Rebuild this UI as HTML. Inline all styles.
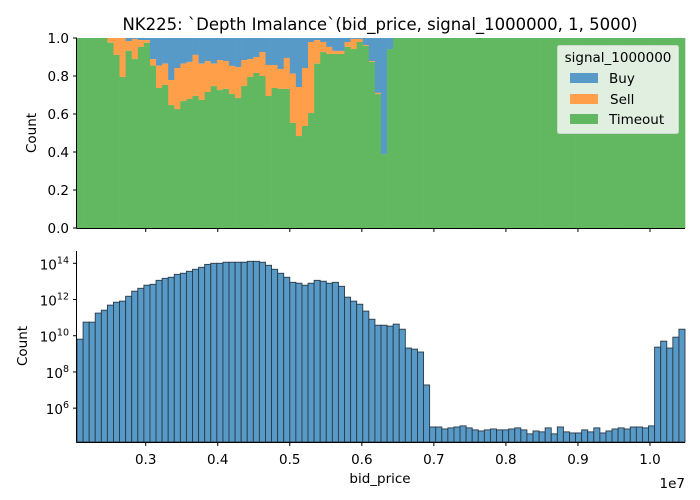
<!DOCTYPE html>
<html><head><meta charset="utf-8"><style>
body{margin:0;background:#fff;}
svg{display:block;font-family:"DejaVu Sans","Liberation Sans",sans-serif;}
</style></head><body>
<div style="position:relative;width:700px;height:500px">
<svg id="c" width="700" height="500" viewBox="0 0 700 500" style="position:absolute;left:0;top:0"></svg>
<svg width="700" height="500" style="position:absolute;left:0;top:0;pointer-events:none;font-family:'DejaVu Sans','Liberation Sans',sans-serif">
<text x="380" y="30" text-anchor="middle" font-size="16.5">NK225: `Depth Imalance`(bid_price, signal_1000000, 1, 5000)</text>
<text transform="translate(36,133) rotate(-90)" text-anchor="middle" font-size="13.5">Count</text>
<text transform="translate(27,346) rotate(-90)" text-anchor="middle" font-size="13.5">Count</text>
<text x="380" y="483" text-anchor="middle" font-size="13.5">bid_price</text>
<text x="685" y="488" text-anchor="end" font-size="13.5">1e7</text>
<g>
<rect x="557.5" y="45.5" width="121" height="88" rx="2" fill="#e0efdf" stroke="#cfd9cf" stroke-width="1"/>
<text x="618" y="62" text-anchor="middle" font-size="13.5">signal_1000000</text>
<rect x="570" y="73" width="28" height="10" fill="#5799c7"/>
<text x="609" y="83" font-size="13.5">Buy</text>
<rect x="570" y="94" width="28" height="10" fill="#ff9f4a"/>
<text x="610" y="104" font-size="13.5">Sell</text>
<rect x="570" y="114" width="28" height="10" fill="#61b861"/>
<text x="609" y="124" font-size="13.5">Timeout</text>
</g>
</svg>
</div>
<script>
const timeoutShare=[1,1,1,1,1,.975,.911,.795,.933,.889,.953,.974,.855,.737,.753,.647,.626,.668,.679,.695,.674,.716,.747,.726,.732,.705,.684,.747,.795,.816,.8,.695,.737,.732,.732,.553,.484,.537,.605,.865,.926,.916,.916,.916,.953,.942,.979,.958,.874,.705,.389,.942,1,1,1,1,1,1,1,1,1,1,1,1,1,1,1,1,1,1,1,1,1,1,1,1,1,1,1,1,1,1,1,1,1,1,1,1,1,1,1,1,1,1,1,1,1,1,1,1];
const sellShare=[0,0,0,0,0,.025,.089,.205,.051,.106,.036,.015,.034,.118,.112,.132,.216,.197,.195,.216,.191,.163,.118,.158,.147,.148,.163,.137,.094,.084,.126,.163,.121,.105,.163,.259,.258,.305,.374,.124,.053,.037,.016,.016,.026,.053,.016,.005,.005,.006,0,0,0,0,0,0,0,0,0,0,0,0,0,0,0,0,0,0,0,0,0,0,0,0,0,0,0,0,0,0,0,0,0,0,0,0,0,0,0,0,0,0,0,0,0,0,0,0,0,0];
const log10Counts=[9.81,10.75,10.75,11.25,11.41,11.69,11.85,11.91,12.18,12.46,12.62,12.79,12.84,13.06,13.17,13.23,13.39,13.45,13.56,13.67,13.78,13.94,14.0,14.0,14.06,14.06,14.06,14.06,14.11,14.11,14.06,13.89,13.67,13.45,13.23,12.95,12.90,12.79,12.90,13.06,13.01,12.90,12.95,12.73,12.13,11.91,11.74,11.36,10.91,10.58,10.58,10.53,10.64,10.36,9.32,9.26,9.10,7.28,4.96,4.96,4.85,4.91,4.96,5.02,4.91,4.80,4.74,4.80,4.85,4.80,4.80,4.85,4.91,4.80,4.58,4.74,4.69,4.91,4.58,4.96,4.69,4.63,4.63,4.80,4.69,4.91,4.63,4.74,4.85,4.91,4.85,4.96,4.96,4.91,5.02,9.37,9.70,9.32,9.92,10.36];
const xTicks=[0.3,0.4,0.5,0.6,0.7,0.8,0.9,1.0];
const xTickLabels=["0.3","0.4","0.5","0.6","0.7","0.8","0.9","1.0"];
const yTicksTop=[0,0.2,0.4,0.6,0.8,1.0];
const yTicksTopLabels=["0.0","0.2","0.4","0.6","0.8","1.0"];
const yTicksLog=[6,8,10,12,14];
const xMin=0.2046,xMax=1.0486;
const L=77,R=685;
const C={buy:'#5799c7',sell:'#ff9f4a',timeout:'#61b861'};
const svg=document.getElementById('c');
const NS='http://www.w3.org/2000/svg';
function mk(tag,attrs,parent){const e=document.createElementNS(NS,tag);for(const k in attrs)e.setAttribute(k,attrs[k]);(parent||svg).appendChild(e);return e;}
const xs=v=>L+(v-xMin)/(xMax-xMin)*(R-L);
const N=log10Counts.length;
const binW=(xMax-xMin)/N;
const T0=38,T1=228;
const yTop=v=>T1-v*(T1-T0);
const gTop=mk('g',{});


for(let i=0;i<N;i++){
  const x0=xs(xMin+i*binW),x1=xs(xMin+(i+1)*binW);
  const t=timeoutShare[i],s=sellShare[i];
  const b=mk('rect',{x:x0,y:yTop(1),width:x1-x0+0.3,height:yTop(t+s)-yTop(1),fill:C.buy},gTop);
  
  
  const o=mk('rect',{x:x0,y:yTop(t+s),width:x1-x0+0.3,height:yTop(t)-yTop(t+s),fill:C.sell},gTop);
  
  
  const g=mk('rect',{x:x0,y:yTop(t),width:x1-x0+0.3,height:yTop(0)-yTop(t),fill:C.timeout},gTop);
  
  
}
mk('line',{x1:L-0.5,y1:T0,x2:L-0.5,y2:T1+0.5,stroke:'#000','stroke-width':1});
mk('line',{x1:L-0.5,y1:T1+0.5,x2:R,y2:T1+0.5,stroke:'#000','stroke-width':1});
yTicksTop.forEach((v,i)=>{
  const y=yTop(v);
  mk('line',{x1:L-4,y1:y,x2:L,y2:y,stroke:'#000'});
  const t=mk('text',{x:L-8,y:y+5,'text-anchor':'end','font-size':13.5,fill:'#000'});
  t.textContent=yTicksTopLabels[i];
  
  
});
xTicks.forEach(v=>{const x=xs(v);mk('line',{x1:x,y1:T1+0.5,x2:x,y2:T1+4,stroke:'#000'});});
const B0=251,B1=442,logMin=4.13,logMax=14.68;
const yB=v=>B1-(v-logMin)/(logMax-logMin)*(B1-B0);
const gB=mk('g',{});


for(let i=0;i<N;i++){
  const x0=xs(xMin+i*binW),x1=xs(xMin+(i+1)*binW);
  const r=mk('rect',{x:x0,y:yB(log10Counts[i]),width:x1-x0,height:B1-yB(log10Counts[i]),fill:C.buy,stroke:'#2b3a45','stroke-width':0.9},gB);
  
  
}
mk('line',{x1:L-0.5,y1:B0,x2:L-0.5,y2:B1+0.5,stroke:'#000'});
mk('line',{x1:L-0.5,y1:B1+0.5,x2:R,y2:B1+0.5,stroke:'#000'});
yTicksLog.forEach(v=>{
  const y=yB(v);
  mk('line',{x1:L-4,y1:y,x2:L,y2:y,stroke:'#000'});
  const t=mk('text',{x:L-8,y:y+6,'text-anchor':'end','font-size':13.5,fill:'#000'});
  
  
  const a=document.createElementNS(NS,'tspan');a.textContent='10';t.appendChild(a);
  const b=document.createElementNS(NS,'tspan');b.setAttribute('dy','-6');b.setAttribute('font-size','9.5');b.textContent=String(v);t.appendChild(b);
});
xTicks.forEach((v,i)=>{
  const x=xs(v);mk('line',{x1:x,y1:B1+0.5,x2:x,y2:B1+4,stroke:'#000'});
  const t=mk('text',{x:x,y:B1+22,'text-anchor':'middle','font-size':13.5,fill:'#000'});
  t.textContent=xTickLabels[i];
  
  
});
</script>
</body></html>
